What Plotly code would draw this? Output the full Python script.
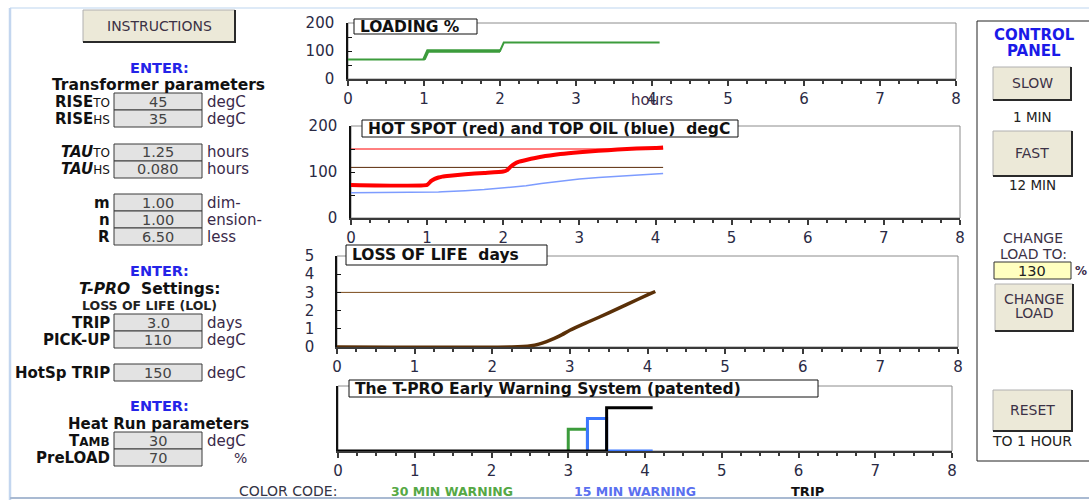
import plotly.graph_objects as go

W, H = 1089, 500
FONT = "DejaVu Sans"

def px(x):
    return x / W

def py(y):
    return 1 - y / H

# ---------------- data ----------------
hour_ticks = [0, 1, 2, 3, 4, 5, 6, 7, 8]

load_time = [0, 1.0, 1.05, 2.0, 2.05, 4.1]
load_pct = [70, 70, 100, 100, 130, 130]

temp_time = [0, 1.0, 1.05, 1.1, 1.15, 1.2, 1.3, 1.5, 1.75, 2.0, 2.05, 2.1, 2.15,
             2.2, 2.3, 2.5, 2.75, 3.0, 3.25, 3.5, 3.75, 4.0, 4.1]
hot_spot = [72, 72, 80, 85, 88, 90, 92, 95, 98, 101, 104, 112, 118,
            122, 126, 133, 139, 143, 146, 149, 151, 152, 153]
top_oil = [55, 55, 55.5, 56, 56.5, 57, 57.5, 59.5, 62, 65, 66, 67, 67.5,
           68, 70, 75, 80, 85, 88, 91, 93.5, 96, 97]
hs_trip_level = 150
pickup_level = 110
end_time = 4.1

lol_time = [0, 2.25, 2.5, 2.6, 2.7, 2.8, 2.9, 3.0, 3.25, 3.5, 3.75, 4.0, 4.1]
lol_days = [0, 0, 0.07, 0.16, 0.3, 0.47, 0.68, 0.92, 1.4, 1.87, 2.37, 2.86, 3.05]
lol_trip = 3.0

ew_green_t = [3.0, 3.0, 3.25, 3.25]
ew_green_v = [0, 1, 1, 0]
ew_blue_t = [3.25, 3.25, 3.5, 3.5, 4.1]
ew_blue_v = [0, 1.5, 1.5, 0, 0]
ew_black_t = [0, 3.5, 3.5, 4.1]
ew_black_v = [0, 0, 2, 2]

param_labels = ["<b>RISE</b><span style='font-size:12px'>TO</span>",
                "<b>RISE</b><span style='font-size:12px'>HS</span>",
                "<b><i>TAU</i></b><span style='font-size:12px'>TO</span>",
                "<b><i>TAU</i></b><span style='font-size:12px'>HS</span>",
                "<b>m</b>", "<b>n</b>", "<b>R</b>",
                "<b>TRIP</b>", "<b>PICK-UP</b>",
                "<b>HotSp TRIP</b>",
                "<b>T<span style='font-size:12px'>AMB</span></b>", "<b>PreLOAD</b>"]
param_values = ["45", "35", "1.25", "0.080", "1.00", "1.00", "6.50",
                "3.0", "110", "150", "30", "70"]
param_units = ["degC", "degC", "hours", "hours", "dim-", "ension-", "less",
               "days", "degC", "degC", "degC", "%"]
row_boxes = [(93, 110), (110, 127), (144, 161), (161, 178), (194, 211), (211, 228), (228, 245),
             (314, 331), (331, 348), (364, 381), (432, 449), (449, 466)]

new_load = "130"

# ---------------- figure ----------------
fig = go.Figure()
shapes = []
ann = []

def rect(x0, y0, x1, y1, fill=None, color="#000", width=1, layer="above"):
    shapes.append(dict(type="rect", xref="paper", yref="paper",
                       x0=px(x0), x1=px(x1), y0=py(y1), y1=py(y0),
                       fillcolor=fill if fill else "rgba(0,0,0,0)",
                       line=dict(color=color, width=width), layer=layer))

def line(x0, y0, x1, y1, color="#000", width=1, layer="above"):
    shapes.append(dict(type="line", xref="paper", yref="paper",
                       x0=px(x0), x1=px(x1), y0=py(y0), y1=py(y1),
                       line=dict(color=color, width=width), layer=layer))

def txt(x, y, s, size=15, color="#111", anchor="center"):
    ann.append(dict(xref="paper", yref="paper", x=px(x), y=py(y), text=s,
                    showarrow=False, xanchor=anchor, yanchor="middle",
                    font=dict(family=FONT, size=size, color=color)))

def button(x0, y0, x1, y1):
    rect(x0, y0, x1, y1, fill="#ECE9D8", color="#B0B0B0", width=1)
    line(x1, y0, x1, y1 + 1, color="#2a2a2a", width=2)
    line(x0, y1, x1 + 1, y1, color="#2a2a2a", width=2)

panels = [
    (348, 956, 23, 79),
    (351, 960, 126, 218),
    (337, 958, 256, 347),
    (338, 952, 386, 451),
]
yranges = [[0, 200], [0, 200], [0, 5], [0, 3]]
ytickv = [[0, 100, 200], [0, 100, 200], [0, 1, 2, 3, 4, 5], []]
yminor = [50, 50, None, None]
ystand = [9, 9, 18, 0]

for i, ((x0, x1, yt, yb), yr) in enumerate(zip(panels, yranges)):
    n = "" if i == 0 else str(i + 1)
    rect(x0, yt, x1, yb, color="#8c8c8c", width=1, layer="below")
    xa = dict(domain=[px(x0), px(x1)], range=[0, 8], anchor="y" + n,
              tickvals=hour_ticks, ticktext=[str(t) for t in hour_ticks],
              showline=True, linecolor="#3a3a3a", linewidth=2,
              ticks="outside", ticklen=5, tickwidth=2, tickcolor="#3a3a3a",
              minor=dict(ticks="outside", ticklen=3, tickwidth=1.5, dtick=0.25, tick0=0,
                         tickcolor="#3a3a3a", showgrid=False),
              ticklabelstandoff=0, automargin=False,
              showgrid=False, zeroline=False, fixedrange=True,
              tickfont=dict(family=FONT, size=15, color="#2a2a44"))
    ya = dict(domain=[py(yb), py(yt)], range=yr, anchor="x" + n,
              showline=True, linecolor="#111", linewidth=1.5, automargin=False,
              showgrid=False, zeroline=False, fixedrange=True,
              tickfont=dict(family=FONT, size=15, color="#2a2a44"))
    if ytickv[i]:
        ya.update(tickvals=ytickv[i], ticks="inside", ticklen=4, tickcolor="#111",
                  ticklabelstandoff=ystand[i])
        if yminor[i]:
            ya["minor"] = dict(ticks="inside", ticklen=4, dtick=yminor[i], tick0=0,
                               tickcolor="#111", showgrid=False)
    else:
        ya.update(showticklabels=False, ticks="")
    fig.layout["xaxis" + n] = xa
    fig.layout["yaxis" + n] = ya

# ----- traces -----
fig.add_trace(go.Scatter(x=load_time, y=load_pct, mode="lines", xaxis="x", yaxis="y",
                         line=dict(color="#3c9c3c", width=2)))
fig.add_trace(go.Scatter(x=load_time[1:4], y=load_pct[1:4], mode="lines", xaxis="x", yaxis="y",
                         line=dict(color="#3c9c3c", width=3.5)))

fig.add_trace(go.Scatter(x=[0, end_time], y=[hs_trip_level, hs_trip_level], mode="lines",
                         xaxis="x2", yaxis="y2", line=dict(color="#ff0000", width=1)))
fig.add_trace(go.Scatter(x=[0, end_time], y=[pickup_level, pickup_level], mode="lines",
                         xaxis="x2", yaxis="y2", line=dict(color="#5a2a08", width=1)))
fig.add_trace(go.Scatter(x=temp_time, y=top_oil, mode="lines", xaxis="x2", yaxis="y2",
                         line=dict(color="#7d9cff", width=1.5)))
fig.add_trace(go.Scatter(x=temp_time, y=hot_spot, mode="lines", xaxis="x2", yaxis="y2",
                         line=dict(color="#ff0000", width=4, shape="spline", smoothing=0.4)))

fig.add_trace(go.Scatter(x=[0, end_time], y=[lol_trip, lol_trip], mode="lines",
                         xaxis="x3", yaxis="y3", line=dict(color="#7a4a1a", width=1)))
fig.add_trace(go.Scatter(x=lol_time, y=lol_days, mode="lines", xaxis="x3", yaxis="y3",
                         line=dict(color="#5a3008", width=3.5, shape="spline", smoothing=0.6)))

fig.add_trace(go.Scatter(x=ew_green_t, y=ew_green_v, mode="lines", xaxis="x4", yaxis="y4",
                         line=dict(color="#3c9c3c", width=3)))
fig.add_trace(go.Scatter(x=ew_blue_t, y=ew_blue_v, mode="lines", xaxis="x4", yaxis="y4",
                         line=dict(color="#3c78ff", width=3)))
fig.add_trace(go.Scatter(x=ew_black_t, y=ew_black_v, mode="lines", xaxis="x4", yaxis="y4",
                         line=dict(color="#000000", width=3)))

# ----- panel title boxes -----
titles = [
    ((354, 19, 477, 34), "<b>LOADING %</b>"),
    ((362, 120, 738, 137), "<b>HOT SPOT (red) and TOP OIL (blue)&nbsp; degC</b>"),
    ((346, 245, 547, 265), "<b>LOSS OF LIFE&nbsp; days</b>"),
    ((349, 380, 818, 397), "<b>The T-PRO Early Warning System (patented)</b>"),
]
for (x0, y0, x1, y1), t in titles:
    rect(x0, y0, x1, y1, fill="#ffffff", color="#111", width=1)
    txt(x0 + 4, (y0 + y1) / 2, t, size=15.5, color="#111", anchor="left")

txt(652, 100, "hours", size=15, color="#3a2a4a")

# ----- window borders -----
line(10, 8, 1089, 8, color="#d3e3f5", width=1.5)
line(10, 8, 10, 500, color="#c3d6ef", width=2.5)
line(10, 498, 1089, 498, color="#a9bad2", width=2)

# ----- left panel -----
button(83, 10, 235, 42)
txt(159, 26, "INSTRUCTIONS", size=14, color="#3c3246")

txt(159, 68, "<b>ENTER:</b>", size=14.5, color="#2424e8")
txt(158, 85, "<b>Transformer parameters</b>", size=15.5, color="#111")
txt(159, 271, "<b>ENTER:</b>", size=14.5, color="#2424e8")
txt(149, 289, "<b><i>T-PRO</i>&nbsp; Settings:</b>", size=15.5, color="#111")
txt(149, 305, "<b>LOSS OF LIFE (LOL)</b>", size=12.5, color="#222")
txt(159, 406, "<b>ENTER:</b>", size=14.5, color="#2424e8")
txt(158, 424, "<b>Heat Run parameters</b>", size=15, color="#111")

for lab, val, unit, (b0, b1) in zip(param_labels, param_values, param_units, row_boxes):
    yc = (b0 + b1) / 2
    rect(114, b0, 202, b1, fill="#E3E3E3", color="#3a3a3a", width=1)
    txt(112, yc, lab, size=15, color="#111", anchor="right")
    txt(158, yc, val, size=14.5, color="#444")
    if unit == "%":
        txt(240, yc, unit, size=14, color="#3a2a4a")
    else:
        txt(205, yc, unit, size=15, color="#3a2a4a", anchor="left")

# ----- control panel -----
line(977, 21, 1089, 21, color="#222", width=1)
line(977, 21, 977, 461, color="#222", width=1)
line(977, 461, 1089, 461, color="#222", width=1)
txt(1034, 35, "<b>CONTROL</b>", size=15, color="#1a1ae8")
txt(1034, 51, "<b>PANEL</b>", size=15, color="#1a1ae8")
button(993, 67, 1071, 100)
txt(1032, 83, "SLOW", size=14, color="#3c3246")
txt(1032, 117, "1 MIN", size=13.5, color="#222")
button(993, 131, 1072, 176)
txt(1032, 153, "FAST", size=14, color="#3c3246")
txt(1032, 185, "12 MIN", size=13.5, color="#222")
txt(1033, 238, "CHANGE", size=14, color="#3c3246")
txt(1033, 254, "LOAD TO:", size=14, color="#3c3246")
rect(994, 262, 1071, 279, fill="#FFFFC0", color="#333", width=1)
txt(1032, 271, new_load, size=14.5, color="#222")
txt(1081, 271, "<b>%</b>", size=12, color="#3a2a4a")
button(995, 284, 1073, 331)
txt(1034, 299, "CHANGE", size=14, color="#3c3246")
txt(1034, 313, "LOAD", size=14, color="#3c3246")
button(993, 390, 1072, 431)
txt(1032, 410, "RESET", size=14, color="#3c3246")
txt(1032, 441, "TO 1 HOUR", size=14, color="#222")

# ----- colour code -----
txt(237, 491, "COLOR CODE:", size=14, color="#333344", anchor="left")
txt(389, 491, "<b>30 MIN WARNING</b>", size=12.5, color="#55a845", anchor="left")
txt(572, 491, "<b>15 MIN WARNING</b>", size=12.5, color="#5a70f0", anchor="left")
txt(789, 491, "<b>TRIP</b>", size=13, color="#111", anchor="left")

fig.update_layout(width=W, height=H,
                  margin=dict(l=0, r=0, t=0, b=0, pad=0, autoexpand=False),
                  paper_bgcolor="#ffffff", plot_bgcolor="#ffffff",
                  showlegend=False, shapes=shapes, annotations=ann,
                  font=dict(family=FONT))
fig.write_html("out.html", config={"displayModeBar": False},
               post_script="document.body.style.margin='0';document.body.style.overflow='hidden';")
